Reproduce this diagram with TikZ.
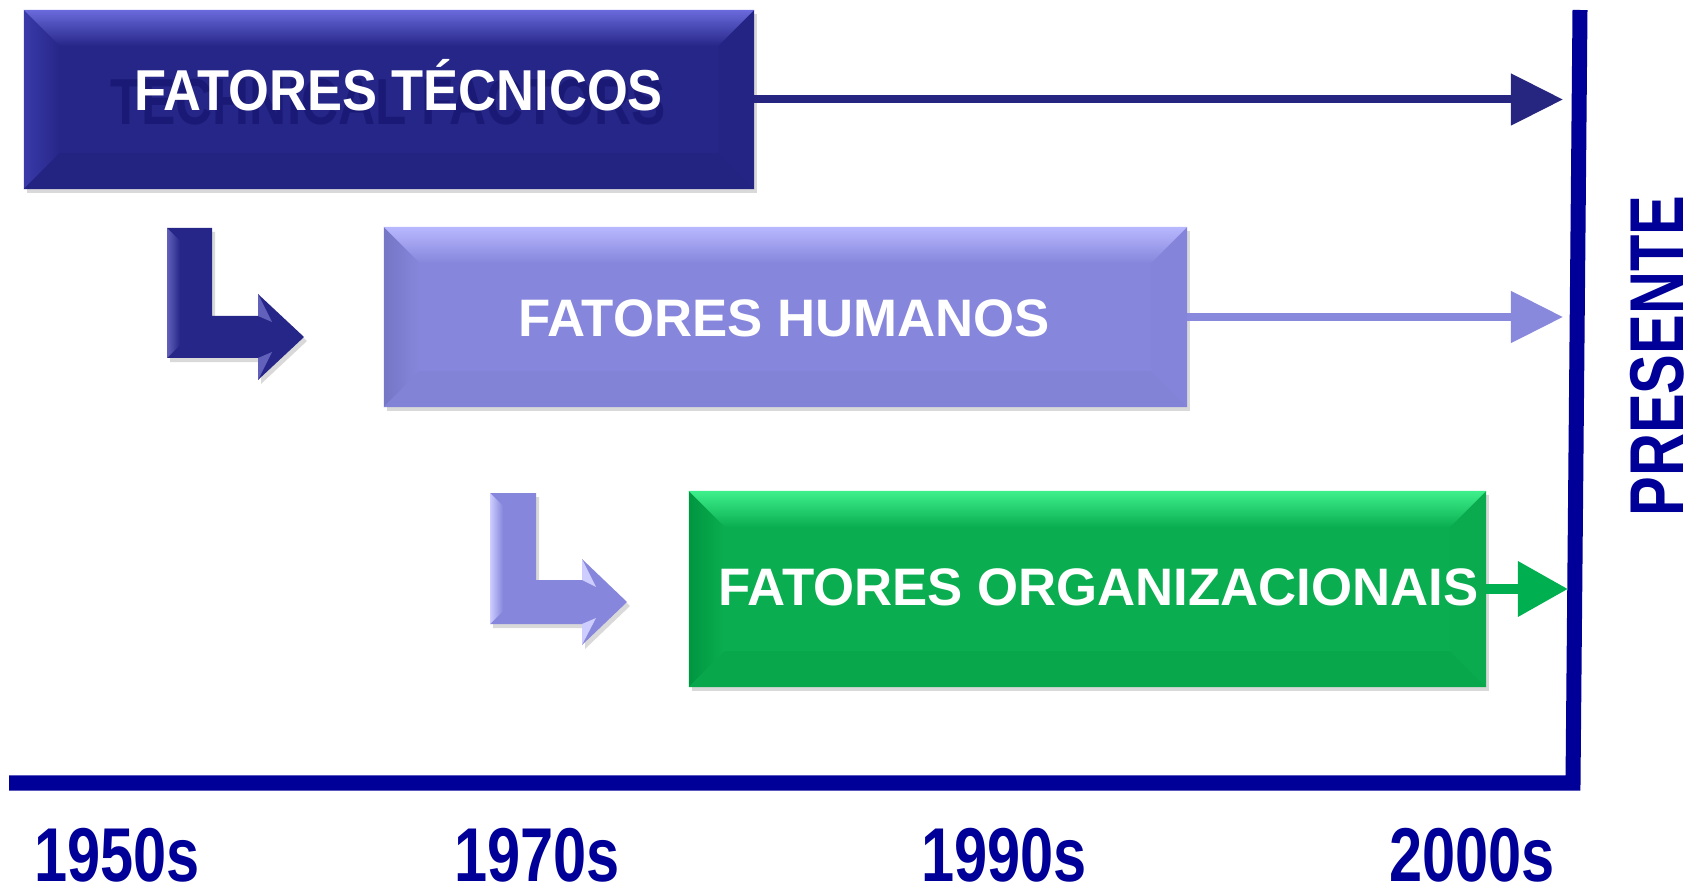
\documentclass[tikz,border=0pt]{standalone}
\usepackage{fontspec}
\setmainfont{Liberation Sans}
\newfontfamily\yearsans{Liberation Sans}[FakeStretch=0.78]
\newfontfamily\techsans{Liberation Sans}[FakeStretch=0.91]
\newfontfamily\ghostsans{Liberation Sans}[FakeStretch=0.79]
\usepackage{tikz}
\usetikzlibrary{arrows.meta,positioning,shadows}
\definecolor{axisblue}{RGB}{0,0,153}
\definecolor{fillT}{RGB}{38,38,136}
\definecolor{hiT}{RGB}{106,106,220}
\definecolor{sideT}{RGB}{58,58,170}
\definecolor{lowT}{RGB}{35,35,130}
\definecolor{fillH}{RGB}{134,134,220}
\definecolor{hiH}{RGB}{184,184,255}
\definecolor{sideH}{RGB}{118,118,198}
\definecolor{lowH}{RGB}{130,130,215}
\definecolor{fillO}{RGB}{10,174,80}
\definecolor{hiO}{RGB}{62,240,140}
\definecolor{sideO}{RGB}{0,150,64}
\definecolor{lowO}{RGB}{9,167,76}
\definecolor{ghost}{RGB}{26,26,118}
\definecolor{arrT}{RGB}{38,38,128}
\definecolor{arrH}{RGB}{136,136,221}
\definecolor{arrO}{RGB}{0,176,80}
\tikzset{font=\bfseries}
\tikzset{every node/.append style={inner sep=0pt,outer sep=0pt}}
\tikzset{
  box/.style={rectangle,draw=none,drop shadow={opacity=0.3,shadow xshift=0.03cm,shadow yshift=-0.04cm}},
  boxtxt/.style={text=white,anchor=base},
  yr/.style={text=axisblue,font=\yearsans\bfseries\fontsize{21.7}{22}\selectfont},
  flow/.style={line width=0.08cm,-{Triangle[length=0.52cm,width=0.5cm]}},
  lshadow/.style={drop shadow={opacity=0.3,shadow xshift=0.03cm,shadow yshift=-0.04cm}}
}

\begin{document}
\begin{tikzpicture}[x=0.01cm,y=-0.01cm]
\useasboundingbox (0,0) rectangle (1696,888);
% boxes
\node[box,fill=fillT,minimum width=7.30cm,minimum height=1.79cm] (tech) at (389,99.5) {};
\node[box,fill=fillH,minimum width=8.03cm,minimum height=1.80cm] (hum) at (785.5,317) {};
\node[box,fill=fillO,minimum width=7.97cm,minimum height=1.96cm] (org) at (1087.5,589) {};
% bevels
\foreach \b/\k in {tech/T,hum/H,org/O}{
  \shade[left color=side\k,right color=fill\k] (\b.north west) -- ([shift={(36,36)}]\b.north west)
    -- ([shift={(36,-36)}]\b.south west) -- (\b.south west) -- cycle;
  \fill[low\k] (\b.south west) -- ([shift={(36,-36)}]\b.south west)
    -- ([shift={(-36,-36)}]\b.south east) -- (\b.south east) -- cycle;
  \fill[low\k!50!fill\k] (\b.north east) -- (\b.south east)
    -- ([shift={(-36,-36)}]\b.south east) -- ([shift={(-36,36)}]\b.north east) -- cycle;
  \shade[top color=hi\k,bottom color=fill\k] (\b.north west) -- (\b.north east)
    -- ([shift={(-36,36)}]\b.north east) -- ([shift={(36,36)}]\b.north west) -- cycle;
}
% texts
\node[anchor=base,text=ghost,font=\ghostsans\bfseries\fontsize{18.5}{20}\selectfont] (ghostlbl) at (388,124.5) {TECHNICAL FACTORS};
\node[boxtxt,font=\techsans\bfseries\fontsize{16.4}{18}\selectfont] (techlbl) at (398.5,110.7) {FATORES TÉCNICOS};
\node[boxtxt,font=\bfseries\fontsize{15}{17}\selectfont] (humlbl) at (784,337) {FATORES HUMANOS};
\node[boxtxt,font=\bfseries\fontsize{15}{17}\selectfont] (orglbl) at (1098.5,605.5) {FATORES ORGANIZACIONAIS};
% bent arrows
\fill[fillT,lshadow] (167,228) -- (212,228) -- (212,316) -- (258,316) -- (258,294) -- (304,337)
  -- (258,380) -- (258,358) -- (167,358) -- cycle;
\shade[left color=sideT!80!white,right color=fillT] (167,228) -- (180,241) -- (180,345) -- (167,358) -- cycle;
\fill[sideT!80!white] (258,294) -- (272,322) -- (258,316) -- cycle;
\fill[sideT!80!white] (258,358) -- (272,352) -- (258,380) -- cycle;
\fill[fillH,lshadow] (490,493) -- (536,493) -- (536,580) -- (582,580) -- (582,559) -- (627,602)
  -- (582,645) -- (582,624) -- (490,624) -- cycle;
\shade[left color=hiH!70!white,right color=fillH] (490,493) -- (503,506) -- (503,611) -- (490,624) -- cycle;
\fill[hiH!70!white] (582,559) -- (596,587) -- (582,580) -- cycle;
\fill[hiH!70!white] (582,624) -- (596,618) -- (582,645) -- cycle;
% axis
\coordinate (start) at (9,783);
\coordinate (corner) at (1573,783);
\coordinate (now) at (1580,10);
\draw[axisblue,line width=0.15cm,miter limit=10] (start) -- (corner) -- (now);
% flow arrows
\coordinate (endT) at (1563,99.5);
\coordinate (endH) at (1563,317);
\coordinate (endO) at (1568,589);
\draw[flow,arrT] (tech.east) -- (endT);
\draw[flow,arrH] (hum.east) -- (endH);
\draw[arrO,line width=0.1cm,-{Triangle[length=0.5cm,width=0.53cm]}] (org.east) -- (endO);
% years
\node[yr] (y1950) at (117,855) {1950s};
\node[yr] (y1970) at (537,855) {1970s};
\node[yr] (y1990) at (1004,855) {1990s};
\node[yr] (y2000) at (1472,855) {2000s};
\node[yr,rotate=90] (nowlbl) at (1657.5,356) {PRESENTE};
\end{tikzpicture}
\end{document}
